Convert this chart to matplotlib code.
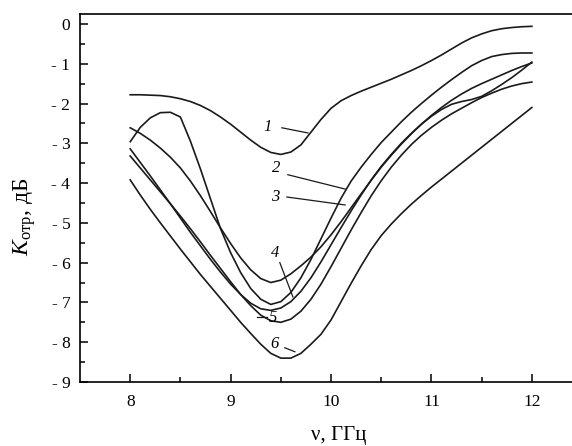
import numpy as np
import matplotlib.pyplot as plt

plt.rcParams['font.family'] = ['Liberation Serif', 'DejaVu Serif']
plt.rcParams['mathtext.fontset'] = 'custom'
plt.rcParams['mathtext.rm'] = 'Liberation Serif'
plt.rcParams['mathtext.it'] = 'Liberation Serif:italic'

# frequency, GHz
freq = np.round(np.arange(8.0, 12.01, 0.1), 1)

# reflection coefficient, dB
k1 = [-1.78, -1.78, -1.79, -1.80, -1.83, -1.88, -1.95, -2.05, -2.18, -2.34,
      -2.52, -2.72, -2.92, -3.10, -3.23, -3.28, -3.22, -3.04, -2.72, -2.40,
      -2.12, -1.93, -1.80, -1.69, -1.59, -1.49, -1.39, -1.28, -1.17, -1.05,
      -0.92, -0.78, -0.63, -0.48, -0.35, -0.25, -0.17, -0.12, -0.09, -0.07, -0.06]
k2 = [-2.96, -2.60, -2.36, -2.23, -2.22, -2.34, -2.95, -3.65, -4.40, -5.15,
      -5.75, -6.25, -6.65, -6.92, -7.05, -6.98, -6.75, -6.38, -5.92, -5.40,
      -4.88, -4.38, -3.95, -3.60, -3.28, -2.98, -2.72, -2.46, -2.22, -2.00,
      -1.79, -1.59, -1.40, -1.22, -1.05, -0.92, -0.82, -0.77, -0.74, -0.73, -0.73]
k3 = [-2.61, -2.75, -2.92, -3.12, -3.35, -3.62, -3.95, -4.32, -4.72, -5.13,
      -5.52, -5.88, -6.18, -6.40, -6.50, -6.44, -6.28, -6.08, -5.86, -5.60,
      -5.30, -4.97, -4.62, -4.27, -3.93, -3.60, -3.30, -3.02, -2.76, -2.52,
      -2.30, -2.10, -1.92, -1.76, -1.62, -1.50, -1.39, -1.28, -1.17, -1.07, -0.98]
k4 = [-3.14, -3.48, -3.82, -4.17, -4.52, -4.88, -5.24, -5.58, -5.92, -6.24,
      -6.54, -6.80, -7.02, -7.16, -7.20, -7.14, -6.98, -6.72, -6.38, -5.98,
      -5.55, -5.12, -4.70, -4.30, -3.92, -3.58, -3.28, -3.00, -2.75, -2.52,
      -2.32, -2.15, -2.02, -1.95, -1.90, -1.82, -1.68, -1.52, -1.35, -1.16, -0.96]
k5 = [-3.32, -3.62, -3.92, -4.22, -4.52, -4.83, -5.15, -5.48, -5.82, -6.15,
      -6.48, -6.80, -7.08, -7.32, -7.46, -7.50, -7.42, -7.22, -6.92, -6.54,
      -6.10, -5.64, -5.18, -4.74, -4.32, -3.94, -3.60, -3.30, -3.03, -2.80,
      -2.60, -2.42, -2.26, -2.12, -1.98, -1.85, -1.74, -1.64, -1.56, -1.50, -1.46]
k6 = [-3.92, -4.30, -4.66, -5.00, -5.33, -5.66, -5.98, -6.30, -6.60, -6.90,
      -7.20, -7.50, -7.78, -8.05, -8.28, -8.40, -8.40, -8.28, -8.05, -7.80,
      -7.44, -6.98, -6.52, -6.08, -5.67, -5.32, -5.03, -4.77, -4.53, -4.31,
      -4.10, -3.90, -3.70, -3.50, -3.30, -3.10, -2.90, -2.70, -2.50, -2.30, -2.10]
curves = [k1, k2, k3, k4, k5, k6]

curve_labels = ['1', '2', '3', '4', '5', '6']
label_xy = [(9.37, -2.59), (9.45, -3.62), (9.44, -4.35), (9.44, -5.75), (9.42, -7.39), (9.44, -8.04)]
leaders = [((9.51, 9.77), (-2.61, -2.74)),
           ((9.57, 10.14), (-3.79, -4.15)),
           ((9.56, 10.14), (-4.35, -4.55)),
           ((9.49, 9.62), (-6.00, -6.86)),
           ((9.26, 9.36), (-7.37, -7.37)),
           ((9.54, 9.64), (-8.14, -8.24))]

xticks = [8, 9, 10, 11, 12]
yticks = [0, -1, -2, -3, -4, -5, -6, -7, -8, -9]
ytick_labels = ['0', '- 1', '- 2', '- 3', '- 4', '- 5', '- 6', '- 7', '- 8', '- 9']

fig = plt.figure(figsize=(5.72, 4.46), dpi=100)
ax = fig.add_axes([0.1399, 0.1435, 0.8601, 0.8251])

for k in curves:
    ax.plot(freq, k, color='#1a1a1a', lw=1.2)

for lab, (lx, ly), (sx, sy) in zip(curve_labels, label_xy, leaders):
    ax.text(lx, ly, lab, fontsize=12, style='italic', ha='center', va='center')
    ax.plot(sx, sy, color='#1a1a1a', lw=0.9)

ax.set_xlim(7.5, 12.4)
ax.set_ylim(-9, 0.25)
ax.set_xticks(xticks)
ax.set_xticks(np.arange(8.5, 12.4, 1.0), minor=True)
ax.set_yticks(yticks)
ax.set_yticklabels(ytick_labels)
ax.set_yticks(np.arange(-8.5, 0.1, 1.0), minor=True)
ax.tick_params(which='both', direction='in', width=1.1, labelsize=12.5)
ax.tick_params(which='major', length=6)
ax.tick_params(which='minor', length=3.5)
ax.tick_params(axis='y', pad=7)
ax.tick_params(axis='x', pad=9)
ax.spines['right'].set_visible(False)
for s in ['left', 'bottom', 'top']:
    ax.spines[s].set_linewidth(1.2)

ax.set_xlabel('ν, ГГц', fontsize=15)
ax.set_ylabel('$\\mathit{K}_{\\mathrm{отр}}$, дБ', fontsize=17)
ax.xaxis.set_label_coords(0.525, -0.12)
ax.yaxis.set_label_coords(-0.085, 0.45)

fig.savefig('out.png', dpi=100)
